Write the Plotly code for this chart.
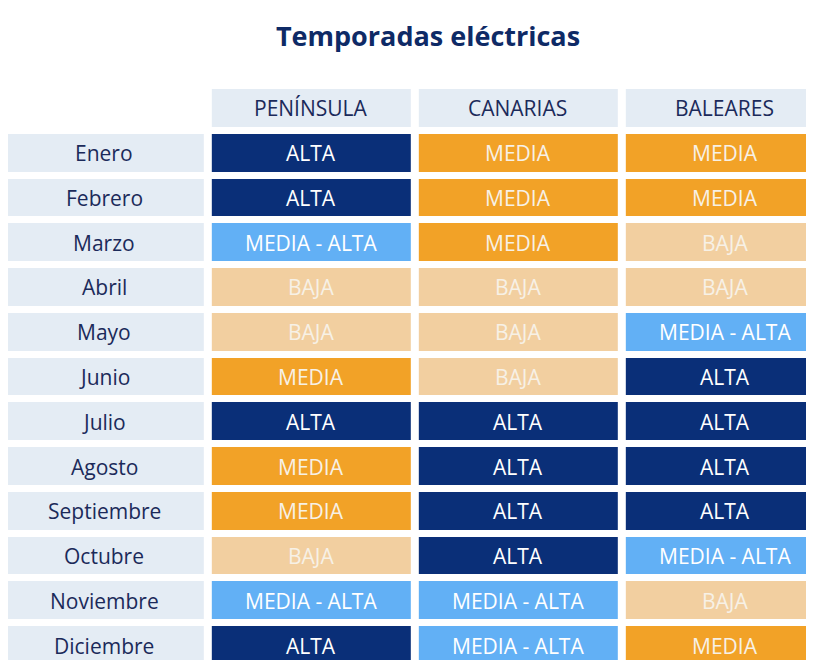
import plotly.graph_objects as go

months = ["Enero","Febrero","Marzo","Abril","Mayo","Junio","Julio","Agosto","Septiembre","Octubre","Noviembre","Diciembre"]
regions = ["PENÍNSULA","CANARIAS","BALEARES"]
peninsula = ["ALTA","ALTA","MEDIA - ALTA","BAJA","BAJA","MEDIA","ALTA","MEDIA","MEDIA","BAJA","MEDIA - ALTA","ALTA"]
canarias = ["MEDIA","MEDIA","MEDIA","BAJA","BAJA","BAJA","ALTA","ALTA","ALTA","ALTA","MEDIA - ALTA","MEDIA - ALTA"]
baleares = ["MEDIA","MEDIA","BAJA","BAJA","MEDIA - ALTA","ALTA","ALTA","ALTA","ALTA","MEDIA - ALTA","BAJA","MEDIA"]

code = {"EMPTY":0,"LABEL":1,"BAJA":2,"MEDIA":3,"MEDIA - ALTA":4,"ALTA":5}
colors = ["#ffffff","#e4ecf4","#f2cfa0","#f2a227","#62b0f5","#0a2f78"]
n = len(colors)
cs = []
for i,c in enumerate(colors):
    cs += [[i/n, c], [(i+1)/n, c]]

cols = [peninsula, canarias, baleares]
z = [[0,1,1,1]]
text_rows = [["", *regions]]
for i,m in enumerate(months):
    z.append([1] + [code[c[i]] for c in cols])
    text_rows.append([m] + [c[i] for c in cols])

xs = [0,1,2,3]
ys = list(range(len(z)))
fig = go.Figure(go.Heatmap(z=z, x=xs, y=ys, colorscale=cs, zmin=-0.5, zmax=n-0.5,
                           showscale=False, xgap=8, ygap=7, hoverinfo="skip"))
navy = "#1b2a5a"
for r, row in enumerate(text_rows):
    for c, t in enumerate(row):
        if not t:
            continue
        if r == 0 or c == 0:
            col = navy
        else:
            col = "#f7f1e6" if t in ("BAJA","MEDIA") else "#ffffff"
        fig.add_annotation(x=c, y=r, text=t, showarrow=False,
                           font=dict(family="Open Sans", size=21, color=col))
fig.update_xaxes(visible=False, range=[-0.465,3.47])
fig.update_yaxes(visible=False, range=[len(z)-0.5,-0.5])
fig.update_layout(width=814, height=660, margin=dict(l=0, r=0, t=78, b=0),
                  plot_bgcolor="white", paper_bgcolor="white",
                  title=dict(text="<b>Temporadas eléctricas</b>", x=0.516, xanchor="center",
                             y=0.957, yanchor="middle",
                             font=dict(family="Open Sans", size=27, color="#0e2a66")))
fig.write_html("out.html")
